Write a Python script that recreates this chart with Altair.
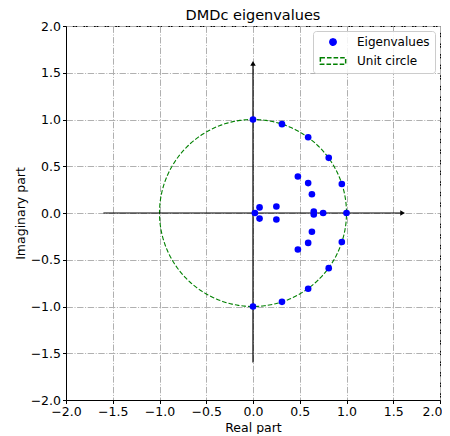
import altair as alt
import numpy as np
import pandas as pd

# ---- data ----
eig_real = [0.00, 0.00, 0.31, 0.31, 0.59, 0.59, 0.81, 0.81, 0.95, 0.95, 1.00,
            0.48, 0.48, 0.59, 0.59, 0.63, 0.63, 0.65, 0.65, 0.75, 0.02,
            0.07, 0.07, 0.25, 0.25]
eig_imag = [1.00, -1.00, 0.95, -0.95, 0.81, -0.81, 0.59, -0.59, 0.31, -0.31, 0.00,
            0.39, -0.39, 0.32, -0.32, 0.20, -0.20, 0.016, -0.016, 0.00, 0.00,
            0.06, -0.06, 0.07, -0.07]
series_names = ["Eigenvalues", "Unit circle"]
tick_values = [-2.0, -1.5, -1.0, -0.5, 0.0, 0.5, 1.0, 1.5, 2.0]
axis_limits = [-2.0, 2.0]
arrow_extent = 1.6

# unit circle geometry
theta = np.linspace(0, 2 * np.pi, 361)
circle_df = pd.DataFrame({"x": np.cos(theta), "y": np.sin(theta),
                          "order": np.arange(len(theta)), "series": "Unit circle"})
eig_df = pd.DataFrame({"x": eig_real, "y": eig_imag, "series": "Eigenvalues"})
hline_df = pd.DataFrame({"x": [-arrow_extent], "x2": [arrow_extent], "y": [0.0]})
vline_df = pd.DataFrame({"x": [0.0], "y": [-arrow_extent], "y2": [arrow_extent]})
hhead_df = pd.DataFrame({"x": [arrow_extent], "y": [0.0]})
vhead_df = pd.DataFrame({"x": [0.0], "y": [arrow_extent]})

FONT = "DejaVu Sans"
GRID_DASH = [6.4, 1.6, 1, 1.6]

last_test = f"datum.value >= {axis_limits[1]}"
x_axis = alt.Axis(values=tick_values, format=".1f", title="Real part", grid=True,
                  labelFlush=False,
                  labelAlign={"condition": {"test": last_test, "value": "right"},
                              "value": "center"},
                  labelOffset={"condition": {"test": last_test, "value": 2},
                               "value": 0})
y_axis = alt.Axis(values=tick_values, format=".1f", title="Imaginary part", grid=True,
                  labelFlush=False)
x_scale = alt.Scale(domain=axis_limits, nice=False, zero=False)
y_scale = alt.Scale(domain=axis_limits, nice=False, zero=False)


def X(field="x"):
    return alt.X(f"{field}:Q", scale=x_scale, axis=x_axis)


def Y(field="y"):
    return alt.Y(f"{field}:Q", scale=y_scale, axis=y_axis)


legend = alt.Legend(title=None)
fill_scale = alt.Scale(domain=series_names, range=["#0000ff", "transparent"])
stroke_scale = alt.Scale(domain=series_names, range=["#0000ff", "#008000"])
shape_scale = alt.Scale(domain=series_names, range=["circle", "M-4,-1H4V1H-4Z"])
dash_scale = alt.Scale(domain=series_names, range=[[1, 0], [4.6, 2]])

circle = alt.Chart(circle_df).mark_line(strokeWidth=1.1).encode(
    x=X(), y=Y(), order="order:Q",
    stroke=alt.Stroke("series:N", scale=stroke_scale, legend=legend),
    strokeDash=alt.StrokeDash("series:N", scale=dash_scale, legend=legend),
)

hline = alt.Chart(hline_df).mark_rule(color="black", strokeWidth=1.2).encode(
    x=X(), x2="x2:Q", y=Y())
vline = alt.Chart(vline_df).mark_rule(color="black", strokeWidth=1.2).encode(
    x=X(), y=Y(), y2="y2:Q")
hhead = alt.Chart(hhead_df).mark_point(shape="triangle-right", filled=True, color="black",
                                      size=30, opacity=1).encode(x=X(), y=Y())
vhead = alt.Chart(vhead_df).mark_point(shape="triangle-up", filled=True, color="black",
                                      size=30, opacity=1).encode(x=X(), y=Y())

points = alt.Chart(eig_df).mark_point(filled=True, size=44, opacity=1).encode(
    x=X(), y=Y(),
    fill=alt.Fill("series:N", scale=fill_scale, legend=legend),
    shape=alt.Shape("series:N", scale=shape_scale, legend=legend),
)

chart = alt.layer(circle, hline, vline, hhead, vhead, points).properties(
    width=374, height=374,
    title=alt.TitleParams("DMDc eigenvalues", fontSize=14.5, fontWeight="normal",
                          font=FONT, color="black", offset=-3.5),
    autosize=alt.AutoSizeParams(type="none"),
    padding={"left": 58, "top": 18, "right": 2, "bottom": 34},
).configure_view(
    stroke="black", strokeWidth=1
).configure_axis(
    labelFont=FONT, labelFontSize=12.5, labelColor="black",
    titleFont=FONT, titleFontSize=12.5, titleFontWeight="normal", titleColor="black",
    tickColor="black", tickSize=3.5, domainColor="black", domainWidth=1,
    gridColor="#b0b0b0", gridDash=GRID_DASH, gridWidth=1, labelPadding=2, titlePadding=3,
).configure_legend(
    orient="top-right", offset=5, strokeColor="#cccccc", fillColor="rgba(255,255,255,0.85)",
    cornerRadius=3, padding=5, labelFont=FONT, labelFontSize=12, labelColor="black",
    symbolSize=40, symbolOffset=9, labelOffset=18, rowPadding=5,
)

chart.save("out.html", embed_options={"renderer": "svg", "actions": False})
